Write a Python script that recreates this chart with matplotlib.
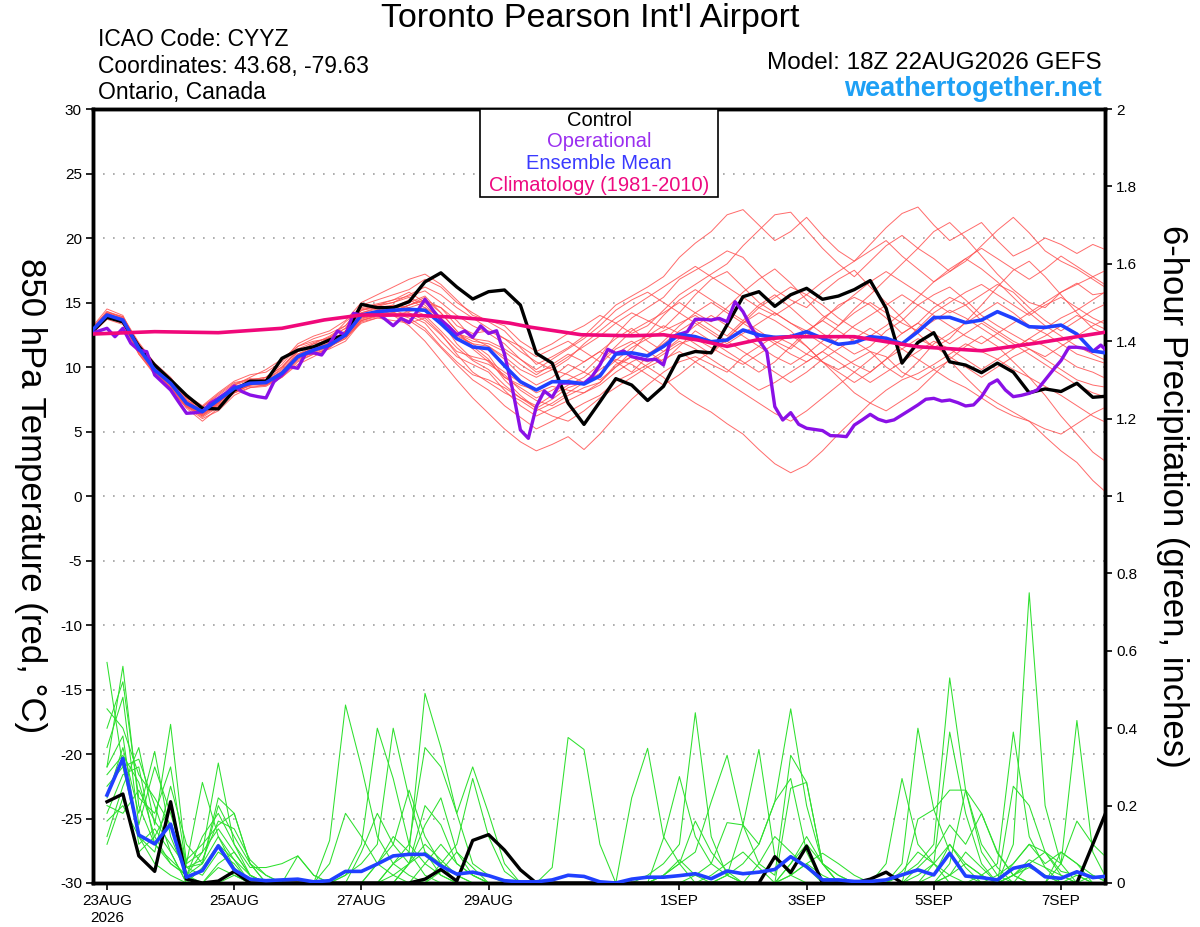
import matplotlib
matplotlib.use('Agg')
import matplotlib.pyplot as plt
from matplotlib.patches import Rectangle

plt.rcParams['font.family'] = ['Liberation Sans', 'DejaVu Sans']

# ---------------- data ----------------
hours_t = list(range(0, 385, 6))     # temperature / mean / control, hours after 22AUG 18Z
hours_op = list(range(0, 385, 3))    # operational run, 3-hourly
hours_p = list(range(6, 385, 6))     # 6-hour precipitation

control_t = [12.66, 13.85, 13.5, 11.6, 10.15, 9.0, 7.8, 6.8, 6.75, 8.2, 8.9, 8.9, 10.67,
             11.3, 11.57, 12.1, 12.5, 14.86, 14.6, 14.6, 15.06, 16.6, 17.3, 16.2, 15.27, 15.84,
             15.97, 14.8, 11.06, 10.3, 7.2, 5.55, 7.3, 9.1, 8.6, 7.4, 8.5, 10.85, 11.2,
             11.1, 13.26, 15.45, 15.84, 14.7, 15.6, 16.1, 15.25, 15.5, 16.0, 16.7, 14.55, 10.3,
             11.9, 12.66, 10.4, 10.15, 9.56, 10.3, 9.6, 8.0, 8.3, 8.1, 8.74, 7.65, 7.75]

mean_t = [12.74, 14.03, 13.64, 11.45, 9.77, 8.74, 7.19, 6.54, 7.44, 8.35, 8.74, 8.79, 9.52,
          10.8, 11.32, 11.7, 12.48, 14.03, 14.29, 14.4, 14.47, 14.4, 13.36, 12.2, 11.55, 11.42,
          10.1, 8.86, 8.22, 8.86, 8.86, 8.68, 9.3, 11.0, 11.1, 10.86, 11.6, 12.53, 12.35,
          11.96, 12.09, 12.87, 12.48, 12.3, 12.35, 12.74, 12.23, 11.76, 11.9, 12.35, 12.23, 11.8,
          12.74, 13.83, 13.85, 13.44, 13.64, 14.29, 13.77, 13.12, 13.07, 13.25, 12.55, 11.24, 11.06]

oper_t = [12.6, 12.8, 13.0, 12.35, 13.0, 11.84, 11.3, 11.19, 9.38, 8.8, 8.22, 7.3, 6.41,
          6.45, 6.54, 7.19, 7.57, 8.0, 8.53, 8.09, 7.83, 7.7, 7.6, 8.86, 9.38, 10.02,
          9.9, 11.06, 11.1, 10.93, 11.8, 12.79, 12.48, 14.16, 14.03, 14.1, 14.16, 13.7, 13.2,
          13.77, 13.44, 14.3, 15.25, 14.4, 13.64, 13.12, 12.5, 12.8, 12.3, 13.18, 12.6, 12.81,
          11.0, 8.3, 5.12, 4.47, 6.93, 8.14, 7.65, 8.74, 8.76, 8.75, 8.74, 9.25, 10.16,
          11.37, 11.06, 11.24, 10.8, 10.67, 10.54, 10.6, 10.16, 12.35, 12.53, 12.74, 13.7, 13.7,
          13.64, 13.77, 13.51, 15.06, 14.29, 13.12, 12.09, 11.19, 6.93, 5.89, 6.46, 5.56, 5.25,
          5.16, 5.07, 4.68, 4.66, 4.6, 5.5, 5.9, 6.33, 5.95, 5.76, 5.9, 6.28, 6.67,
          7.06, 7.5, 7.57, 7.36, 7.44, 7.24, 6.98, 7.06, 7.7, 8.66, 9.0, 8.22, 7.7,
          7.8, 7.96, 8.22, 9.0, 9.77, 10.5, 11.53, 11.53, 11.45, 11.2, 11.7, 11.12]

clim_hours = [0, 24, 48, 72, 88, 102, 120, 138, 147, 158, 166, 185, 204, 216, 229, 240,
              251, 264, 275, 288, 312, 336, 356, 384]
clim_t = [12.55, 12.74, 12.66, 13.0, 13.65, 14.03, 14.03, 13.85, 13.7, 13.4, 13.08, 12.5,
          12.42, 12.5, 12.09, 11.6, 12.09, 12.35, 12.35, 12.35, 11.57, 11.26, 11.83, 12.74]

ens_t01 = [12.9, 14.3, 13.8, 11.8, 10.2, 9.0, 7.6, 6.8, 7.0, 8.0, 8.6, 9.2, 10.0,
           11.2, 11.8, 12.4, 13.2, 14.8, 15.2, 15.6, 16.0, 16.8, 16.2, 15.0, 14.2, 13.5,
           12.8, 11.5, 10.2, 10.8, 11.5, 12.4, 13.6, 14.8, 15.5, 16.2, 17.0, 18.5, 19.6,
           20.5, 21.8, 22.2, 21.0, 19.8, 20.5, 21.6, 20.2, 19.0, 18.2, 19.5, 20.8, 21.9,
           22.4, 21.0, 19.8, 20.5, 21.2, 19.8, 18.6, 19.2, 20.0, 19.5, 18.8, 19.5, 19.0]
ens_t02 = [12.5, 13.8, 13.4, 11.0, 9.5, 8.2, 6.9, 6.0, 6.6, 7.8, 8.4, 8.5, 9.2,
           10.2, 10.8, 11.5, 12.8, 13.9, 14.2, 14.0, 13.6, 12.8, 11.5, 10.2, 9.0, 8.2,
           7.0, 6.1, 5.2, 5.8, 6.5, 7.2, 7.8, 8.9, 9.5, 10.2, 11.0, 11.8, 12.2,
           11.5, 10.8, 10.2, 11.0, 11.8, 12.5, 11.6, 10.4, 9.8, 10.5, 11.2, 10.8, 9.6,
           9.0, 9.8, 10.5, 9.2, 8.0, 7.2, 6.5, 5.8, 4.6, 3.5, 2.6, 1.2, 0.1]
ens_t03 = [13.0, 14.5, 14.0, 11.6, 9.6, 8.4, 7.0, 6.2, 7.2, 8.6, 9.2, 9.8, 10.6,
           11.6, 12.0, 12.2, 13.5, 14.5, 14.8, 15.2, 15.8, 15.0, 13.8, 12.5, 11.8, 10.9,
           9.2, 8.4, 7.6, 8.2, 9.0, 9.6, 10.8, 12.5, 13.8, 14.6, 15.4, 16.8, 17.5,
           18.2, 19.0, 18.5, 17.2, 16.0, 15.2, 14.6, 15.8, 16.8, 17.5, 16.2, 15.0, 13.8,
           12.6, 11.5, 12.2, 13.5, 14.8, 16.2, 17.5, 18.2, 17.0, 15.6, 14.2, 13.0, 12.4]
ens_t04 = [12.6, 13.9, 13.6, 11.2, 9.9, 8.9, 7.5, 6.6, 7.6, 8.4, 8.9, 8.8, 9.6,
           10.6, 11.2, 11.9, 12.8, 14.2, 14.6, 14.8, 14.2, 13.6, 12.5, 11.2, 10.8, 10.5,
           9.6, 8.8, 8.0, 8.5, 8.2, 8.0, 8.8, 10.2, 10.8, 10.0, 9.2, 8.0, 7.2,
           6.5, 5.6, 4.8, 3.6, 2.5, 1.8, 2.4, 3.5, 4.8, 6.0, 7.2, 8.2, 9.0,
           9.5, 10.2, 11.0, 11.8, 11.2, 10.6, 9.8, 9.2, 8.5, 7.8, 7.0, 6.2, 5.6]
ens_t05 = [12.8, 14.1, 13.5, 11.5, 9.7, 8.6, 7.0, 6.4, 7.3, 8.2, 8.5, 8.6, 9.3,
           10.9, 11.5, 11.6, 12.2, 13.6, 14.0, 14.2, 14.8, 15.2, 14.6, 13.2, 12.6, 12.8,
           12.2, 11.6, 10.8, 11.4, 12.0, 11.2, 10.4, 11.6, 12.8, 13.5, 14.2, 15.0, 14.2,
           13.5, 14.6, 15.8, 16.8, 17.6, 16.5, 15.2, 14.0, 13.2, 14.5, 15.6, 16.8, 18.0,
           19.2, 20.5, 21.2, 20.0, 18.6, 17.2, 16.0, 15.0, 14.6, 15.8, 16.5, 15.6, 15.8]
ens_t06 = [12.7, 14.0, 13.7, 11.3, 9.6, 8.5, 7.1, 6.2, 7.0, 8.1, 8.8, 9.0, 9.8,
           11.0, 11.6, 12.0, 12.6, 13.8, 14.1, 14.6, 15.0, 15.5, 14.2, 12.8, 11.6, 10.6,
           9.0, 7.8, 6.8, 7.5, 8.4, 8.8, 9.5, 10.5, 11.5, 12.2, 12.8, 13.4, 14.0,
           13.2, 12.4, 13.6, 14.8, 15.6, 14.6, 13.5, 12.6, 11.8, 11.0, 11.6, 12.8, 13.6,
           14.8, 15.6, 16.2, 15.2, 14.0, 13.2, 12.5, 11.8, 12.4, 13.2, 14.0, 13.4, 12.8]
ens_t07 = [12.5, 13.7, 13.3, 11.0, 9.4, 8.3, 6.8, 5.8, 6.8, 8.0, 8.4, 8.6, 9.2,
           10.4, 11.0, 11.4, 12.0, 13.5, 13.8, 14.0, 13.2, 12.0, 10.5, 9.0, 7.6, 6.4,
           5.2, 4.2, 3.5, 4.0, 4.6, 3.6, 4.8, 6.2, 7.5, 8.6, 9.6, 10.4, 10.8,
           10.2, 9.6, 10.8, 11.6, 12.4, 11.8, 11.0, 10.4, 9.6, 8.8, 9.6, 10.6, 11.4,
           12.2, 11.6, 10.8, 10.0, 9.2, 10.0, 10.8, 11.4, 10.6, 9.8, 9.0, 8.6, 8.4]
ens_t08 = [12.8, 14.2, 13.9, 11.7, 10.0, 8.8, 7.4, 6.9, 7.8, 8.7, 9.1, 9.0, 9.9,
           11.3, 11.6, 12.3, 13.0, 14.6, 14.9, 15.2, 15.5, 15.9, 15.0, 14.0, 13.2, 12.6,
           11.8, 10.6, 9.6, 10.0, 10.8, 11.6, 12.4, 13.4, 14.2, 13.6, 13.0, 14.2, 15.6,
           16.8, 17.4, 16.2, 15.0, 14.2, 13.4, 12.8, 13.6, 14.8, 15.4, 14.8, 13.8, 12.6,
           13.4, 14.6, 15.4, 14.8, 13.6, 12.8, 12.0, 11.4, 10.8, 11.6, 12.4, 13.2, 13.8]
ens_t09 = [12.6, 13.9, 13.5, 11.4, 9.8, 8.6, 7.3, 6.7, 7.5, 8.5, 8.8, 8.7, 9.4,
           10.7, 11.2, 11.6, 12.3, 13.4, 13.8, 13.6, 13.4, 13.8, 12.6, 11.0, 9.6, 8.8,
           8.0, 7.4, 6.6, 7.2, 8.0, 8.8, 9.8, 10.6, 10.2, 9.4, 8.6, 9.4, 10.4,
           11.2, 12.2, 13.4, 14.2, 13.6, 12.8, 11.6, 10.4, 9.2, 8.0, 7.2, 6.6, 7.4,
           8.2, 9.4, 10.6, 11.6, 12.4, 11.6, 10.4, 9.2, 7.8, 6.2, 4.8, 3.4, 2.5]
ens_t10 = [12.9, 14.2, 13.7, 11.6, 10.1, 9.1, 7.8, 7.0, 8.0, 8.9, 9.4, 9.6, 10.4,
           11.8, 12.4, 12.8, 13.6, 15.0, 15.6, 16.2, 16.8, 17.2, 16.4, 15.2, 14.0, 13.6,
           13.2, 12.0, 11.2, 11.8, 12.6, 13.2, 14.0, 13.4, 12.6, 13.2, 14.4, 15.6, 16.4,
           17.2, 18.0, 19.4, 20.6, 21.8, 22.0, 20.6, 19.2, 18.0, 17.0, 18.2, 19.4, 20.2,
           19.2, 18.4, 17.4, 18.2, 19.4, 20.6, 21.6, 20.4, 19.0, 18.2, 17.6, 16.8, 16.0]
ens_t11 = [12.7, 14.0, 13.6, 11.2, 9.5, 8.4, 6.9, 6.3, 7.1, 8.0, 8.6, 8.9, 9.7,
           10.9, 11.4, 11.9, 12.6, 14.0, 14.4, 14.8, 14.6, 14.0, 12.8, 11.5, 10.5, 9.8,
           8.6, 7.6, 7.0, 7.8, 8.6, 9.2, 10.2, 11.4, 12.0, 11.2, 10.4, 11.6, 12.8,
           12.0, 11.2, 10.4, 9.6, 10.4, 11.6, 12.8, 13.6, 12.8, 12.0, 11.2, 10.0, 9.2,
           10.4, 11.8, 12.6, 13.4, 14.2, 15.0, 14.2, 13.2, 12.6, 11.8, 11.0, 10.6, 10.2]
ens_t12 = [12.6, 13.8, 13.5, 11.6, 10.0, 8.9, 7.2, 6.4, 7.2, 8.3, 8.7, 8.6, 9.4,
           10.5, 11.0, 11.5, 12.4, 13.8, 14.0, 14.2, 14.6, 15.0, 14.6, 13.6, 12.2, 11.6,
           10.6, 9.4, 8.6, 9.2, 10.2, 9.6, 9.0, 10.0, 11.2, 12.6, 14.0, 15.2, 16.0,
           15.2, 14.4, 13.6, 12.8, 12.0, 11.4, 12.6, 13.8, 14.6, 15.6, 16.6, 17.4, 16.6,
           15.8, 15.0, 14.2, 14.8, 15.6, 16.4, 15.8, 14.6, 13.6, 12.8, 13.6, 14.4, 15.0]
ens_t13 = [12.8, 14.1, 13.8, 11.4, 9.7, 8.6, 7.0, 6.1, 6.9, 8.2, 8.7, 8.9, 9.5,
           10.8, 11.5, 11.8, 12.4, 13.7, 14.1, 14.3, 14.8, 15.4, 13.6, 11.8, 10.6, 10.2,
           9.4, 8.2, 7.4, 7.0, 7.8, 8.4, 8.8, 10.0, 10.8, 10.4, 11.2, 12.0, 11.4,
           10.6, 9.8, 9.0, 8.2, 8.8, 9.6, 10.4, 11.2, 10.4, 9.6, 8.8, 9.6, 10.4,
           11.2, 12.0, 11.4, 10.6, 9.8, 10.6, 11.4, 12.2, 11.6, 10.8, 10.0, 9.6, 9.0]
ens_t14 = [12.7, 14.1, 13.6, 11.5, 9.9, 8.8, 7.3, 6.6, 7.4, 8.4, 8.8, 8.9, 9.6,
           11.0, 11.4, 11.8, 12.6, 14.2, 14.5, 14.6, 15.2, 14.6, 13.4, 12.4, 11.8, 11.6,
           10.8, 9.8, 9.2, 9.8, 9.4, 8.8, 9.4, 11.0, 11.8, 12.4, 13.2, 12.6, 11.8,
           11.0, 12.2, 13.4, 14.6, 15.4, 16.2, 15.6, 14.8, 13.8, 13.0, 12.4, 13.2, 14.2,
           15.4, 16.6, 17.6, 18.4, 17.6, 16.6, 15.4, 14.2, 13.2, 12.4, 11.6, 11.0, 10.4]
ens_t15 = [12.5, 13.8, 13.5, 11.3, 9.6, 8.4, 7.0, 6.3, 7.2, 8.1, 8.6, 8.7, 9.4,
           10.6, 11.1, 11.6, 12.2, 13.6, 13.9, 14.0, 14.3, 14.6, 13.8, 12.6, 12.0, 11.8,
           11.2, 10.2, 9.4, 10.2, 11.0, 10.4, 11.2, 12.2, 13.0, 12.0, 11.2, 12.2, 13.2,
           14.0, 13.2, 12.4, 11.6, 10.8, 10.2, 11.0, 12.0, 13.2, 14.2, 15.0, 14.2, 13.4,
           12.8, 13.6, 14.4, 13.8, 13.0, 12.2, 11.4, 12.2, 13.0, 13.8, 14.4, 15.2, 16.0]
ens_t16 = [12.8, 14.0, 13.7, 11.6, 9.9, 8.7, 7.2, 6.5, 7.5, 8.4, 8.7, 8.9, 9.5,
           10.8, 11.3, 11.7, 12.4, 13.9, 14.2, 14.4, 14.0, 13.4, 12.0, 10.8, 10.2, 9.6,
           8.2, 7.0, 6.2, 6.8, 7.4, 8.0, 8.6, 9.6, 10.4, 11.0, 11.8, 12.8, 13.6,
           12.8, 12.0, 11.2, 10.4, 9.6, 8.8, 9.6, 10.6, 11.4, 12.2, 13.0, 12.2, 11.4,
           10.6, 9.8, 9.0, 8.4, 7.6, 6.8, 6.2, 5.8, 5.2, 4.8, 5.6, 6.4, 7.0]
ens_t17 = [12.6, 14.2, 13.6, 11.5, 9.9, 8.8, 7.4, 6.6, 7.4, 8.6, 9.0, 9.2, 10.2,
           11.6, 12.2, 12.6, 13.2, 14.4, 14.8, 15.0, 15.4, 14.8, 13.6, 12.6, 12.2, 12.0,
           11.4, 10.6, 9.8, 10.6, 11.4, 12.2, 13.2, 14.4, 15.2, 15.8, 15.0, 14.2, 13.4,
           12.6, 11.8, 12.6, 13.4, 14.2, 13.4, 12.6, 11.8, 11.0, 10.2, 9.6, 10.6, 11.8,
           13.0, 14.2, 15.0, 15.8, 16.4, 15.6, 14.8, 14.0, 14.8, 15.4, 14.6, 13.8, 13.2]
ens_t18 = [12.7, 13.9, 13.4, 11.1, 9.6, 8.6, 7.1, 6.4, 7.3, 8.2, 8.6, 8.8, 9.6,
           11.2, 11.8, 12.0, 12.8, 14.4, 14.6, 14.2, 13.8, 13.0, 11.6, 10.4, 9.4, 9.0,
           8.4, 7.6, 6.8, 6.2, 5.8, 6.6, 7.6, 8.4, 9.2, 10.0, 10.6, 11.2, 10.4,
           9.6, 8.8, 8.0, 7.2, 6.4, 5.8, 6.6, 7.6, 8.6, 9.6, 10.6, 11.6, 12.6,
           13.4, 12.6, 11.8, 12.6, 13.4, 12.6, 11.8, 11.0, 10.2, 9.4, 8.6, 8.0, 7.6]
ens_t19 = [12.9, 14.3, 13.9, 11.9, 10.3, 9.2, 7.6, 6.9, 7.9, 8.8, 9.0, 9.2, 10.0,
           11.4, 11.9, 12.3, 13.0, 14.4, 14.7, 15.0, 15.6, 16.2, 15.6, 14.6, 13.8, 13.0,
           12.2, 11.2, 10.4, 9.8, 10.6, 11.8, 12.8, 13.8, 14.6, 15.4, 16.2, 17.0, 17.8,
           17.0, 16.2, 15.4, 14.6, 14.0, 14.8, 15.6, 16.6, 17.4, 18.2, 19.0, 19.8, 18.6,
           17.6, 16.6, 17.4, 18.4, 19.2, 18.4, 17.6, 16.8, 17.6, 18.6, 17.8, 17.0, 16.2]
ens_t20 = [12.6, 13.9, 13.5, 11.3, 9.7, 8.6, 7.1, 6.4, 7.2, 8.3, 8.8, 8.7, 9.5,
           10.8, 11.2, 11.6, 12.4, 13.6, 14.0, 14.4, 14.8, 15.2, 14.2, 12.8, 11.4, 10.4,
           9.2, 8.6, 8.2, 8.8, 9.6, 10.4, 11.2, 10.4, 9.6, 10.8, 12.0, 13.2, 14.2,
           15.0, 14.2, 13.4, 12.6, 11.8, 11.0, 10.4, 11.2, 12.2, 13.2, 14.0, 14.8, 15.6,
           14.8, 14.0, 13.2, 12.4, 11.8, 12.6, 13.4, 14.2, 15.0, 15.8, 16.4, 17.0, 17.6]

control_p = [.21, .23, .07, .03, .21, .01, 0, .005, .03, 0, 0, 0, 0, 0, 0, 0,
             0, 0, 0, 0, .01, .035, .005, .11, .125, .085, .034, 0, 0, 0, 0, 0,
             0, 0, 0, 0, 0, 0, 0, 0, 0, 0, .068, .027, .095, 0, 0, 0,
             .01, .028, 0, 0, 0, 0, 0, 0, 0, 0, 0, 0, 0, 0, .1, .2]
mean_p = [.227, .322, .124, .101, .152, .015, .032, .096, .034, .01, .006, .008, .01, .003, .006, .03,
          .03, .049, .07, .074, .074, .044, .023, .028, .019, .006, .003, .003, .008, .02, .017, .003,
          0, .01, .015, .015, .019, .024, .011, .031, .024, .028, .035, .068, .042, .008, .008, .004,
          .004, .008, .021, .034, .021, .077, .018, .014, .008, .038, .047, .016, .012, .029, .014, .018]

ens_p01 = [.57, .30, .12, .05, .02, 0, .04, .10, .06, 0, 0, 0, 0, 0, 0, .02,
           .05, .10, .40, .22, .08, .02, 0, 0, 0, 0, 0, 0, 0, 0, 0, 0,
           0, 0, .02, .05, .10, .44, .12, .02, 0, 0, 0, 0, 0, 0, 0, 0,
           0, 0, .02, .05, .10, .53, .24, .08, .02, 0, .05, .02, 0, 0, 0, 0]
ens_p02 = [.30, .56, .20, .10, .05, .02, .08, .31, .10, .02, 0, 0, 0, 0, .11, .46,
           .30, .12, .05, .02, 0, 0, 0, 0, 0, 0, 0, 0, 0, 0, 0, 0,
           0, 0, 0, 0, 0, 0, 0, .02, .05, .10, .21, .45, .20, .05, .02, 0,
           0, 0, 0, 0, .02, .10, .05, .02, 0, .10, .75, .20, .05, 0, 0, 0]
ens_p03 = [.22, .35, .18, .34, .12, .02, 0, 0, .02, 0, 0, 0, 0, 0, 0, 0,
           0, 0, .05, .08, .49, .35, .18, .05, .02, 0, 0, 0, .04, .376, .345, .10,
           0, 0, 0, 0, 0, 0, 0, 0, 0, 0, 0, .05, .10, .05, 0, 0,
           0, 0, 0, 0, 0, .05, .24, .18, .08, .02, 0, 0, 0, 0, 0, 0]
ens_p04 = [.12, .25, .35, .15, .41, .05, .26, .12, .04, 0, 0, 0, .07, .02, 0, 0,
           0, .05, .10, .24, .12, .05, 0, 0, 0, 0, 0, 0, 0, 0, 0, 0,
           0, .22, .348, .12, .05, 0, 0, .02, .15, .345, .07, .02, 0, 0, 0, 0,
           0, 0, 0, 0, 0, .02, .05, .02, .05, .39, .12, .04, 0, .02, 0, 0]
ens_p05 = [.45, .40, .28, .22, .15, .06, .10, .15, .18, .05, .02, 0, 0, 0, 0, .02,
           .10, .40, .27, .10, .05, .02, 0, 0, 0, 0, 0, 0, 0, 0, 0, 0,
           0, 0, 0, .02, .05, .08, .21, .33, .15, .05, .02, .33, .26, .05, 0, 0,
           0, 0, .05, .40, .19, .08, .02, 0, 0, .02, .05, .08, .05, .16, .10, .06]
ens_p06 = [.25, .30, .32, .20, .08, 0, 0, .05, .08, .02, 0, 0, 0, 0, 0, 0,
           0, 0, .05, .10, .35, .30, .18, .30, .18, .05, 0, 0, 0, 0, 0, 0,
           0, 0, 0, 0, 0, .02, .05, .156, .15, .10, .21, .27, .08, 0, 0, 0,
           0, 0, 0, .02, .05, .39, .18, .05, 0, .25, .20, .08, .02, 0, 0, 0]
ens_p07 = [.16, .20, .12, .08, .25, .10, .05, .20, .12, .05, 0, 0, 0, 0, 0, 0,
           0, 0, 0, 0, .05, .10, .05, .02, 0, 0, 0, 0, 0, 0, 0, 0,
           0, 0, 0, .116, .275, .12, .05, .02, 0, 0, 0, 0, 0, 0, 0, 0,
           0, 0, 0, .165, .19, .24, .24, .10, .04, 0, 0, 0, .05, .42, .08, 0]
ens_p08 = [.35, .48, .15, .30, .18, .04, .05, .22, .18, .05, 0, 0, 0, 0, 0, 0,
           0, 0, 0, .05, .15, .22, .08, .02, 0, 0, 0, 0, 0, 0, 0, 0,
           0, 0, 0, .02, .05, .16, .08, .03, 0, 0, 0, .245, .26, .05, .02, 0,
           0, .05, .27, .10, .05, 0, 0, .02, 0, 0, 0, 0, 0, 0, .02, 0]
ens_p09 = [.28, .33, .26, .12, .05, .02, .05, .12, .06, .02, 0, 0, 0, 0, 0, 0,
           .08, .18, .10, .05, .20, .15, .05, .02, 0, 0, 0, 0, 0, 0, 0, 0,
           0, 0, 0, 0, 0, 0, 0, 0, 0, .05, .12, .08, .04, 0, 0, 0,
           0, 0, 0, .04, .08, .15, .10, .18, .077, .02, 0, 0, .08, .05, .02, 0]
ens_p10 = [.40, .52, .22, .18, .30, .04, .02, .08, .05, 0, 0, 0, 0, 0, .05, .18,
           .12, .05, .02, 0, 0, .05, .10, .27, .12, .03, 0, 0, 0, 0, 0, 0,
           0, 0, 0, 0, 0, 0, 0, 0, 0, 0, 0, .05, .12, .05, 0, 0,
           0, 0, 0, 0, 0, .02, .08, .04, 0, .05, .10, .05, .08, .05, 0, 0]
ens_p11 = [.18, .28, .30, .10, .06, .02, .12, .18, .10, .04, .04, .05, .07, .02, 0, 0,
           0, 0, 0, .05, .08, .05, .02, 0, 0, 0, 0, 0, 0, 0, 0, 0,
           0, 0, 0, 0, 0, 0, .02, .05, .08, .04, 0, .02, .05, .077, .05, .02,
           0, 0, 0, 0, 0, 0, 0, 0, .02, .05, .10, .08, .03, .02, 0, 0]
ens_p12 = [.30, .38, .10, .14, .08, 0, 0, .04, .02, 0, 0, 0, 0, 0, 0, 0,
           0, 0, .02, .05, .10, .06, .02, 0, 0, 0, 0, 0, 0, 0, 0, 0,
           0, 0, 0, 0, 0, 0, 0, 0, 0, 0, 0, 0, 0, 0, 0, 0,
           0, 0, 0, 0, 0, 0, 0, 0, 0, 0, 0, 0, 0, 0, 0, 0]
ens_p13 = [.10, .22, .08, .12, .20, .05, .08, .14, .08, .02, 0, 0, 0, 0, 0, 0,
           0, .05, .12, .08, .02, 0, 0, 0, 0, 0, 0, 0, 0, 0, 0, 0,
           0, 0, 0, .02, .06, .02, 0, 0, 0, 0, 0, .02, .05, .02, 0, 0,
           0, 0, .03, .08, .05, .02, 0, 0, 0, .02, .04, .02, 0, 0, 0, 0]
ens_p14 = [.20, .18, .24, .16, .10, .04, .06, .16, .14, .06, .02, 0, 0, 0, 0, 0,
           0, 0, 0, 0, 0, .03, .08, .04, 0, 0, 0, 0, 0, 0, 0, 0,
           0, 0, 0, 0, 0, 0, 0, 0, 0, 0, 0, 0, 0, 0, 0, 0,
           0, 0, 0, 0, .05, .10, .04, 0, 0, .02, .06, .04, .02, 0, 0, 0]

ens_t_members = [ens_t01, ens_t02, ens_t03, ens_t04, ens_t05, ens_t06, ens_t07, ens_t08,
                 ens_t09, ens_t10, ens_t11, ens_t12, ens_t13, ens_t14, ens_t15, ens_t16,
                 ens_t17, ens_t18, ens_t19, ens_t20]
ens_p_members = [ens_p01, ens_p02, ens_p03, ens_p04, ens_p05, ens_p06, ens_p07,
                 ens_p08, ens_p09, ens_p10, ens_p11, ens_p12, ens_p13, ens_p14]

tick_hours = [6, 54, 102, 150, 222, 270, 318, 366]
tick_labels = ['23AUG\n2026', '25AUG', '27AUG', '29AUG', '1SEP', '3SEP', '5SEP', '7SEP']

# ---------------- figure ----------------
W, H = 1200, 927
fig = plt.figure(figsize=(W / 100, H / 100), dpi=100)
L, R, T, B = 93, 1105, 109, 883
ax = fig.add_axes([L / W, 1 - B / H, (R - L) / W, (B - T) / H])
ax2 = ax.twinx()

C_RED = '#ff5050'
C_GREEN = '#2ee02e'
C_PURPLE = '#8a10e6'
C_BLUE = '#2040ff'
C_PINK = '#f0087a'

# precipitation (right axis)
for m in ens_p_members:
    ax2.plot(hours_p, m, color=C_GREEN, lw=0.75, zorder=2)
ax2.plot(hours_p, control_p, color='black', lw=2.4, zorder=4)
ax2.plot(hours_p, mean_p, color=C_BLUE, lw=2.6, zorder=5)

# temperature (left axis scale)
for m in ens_t_members:
    ax2.plot(hours_t, m, color=C_RED, lw=0.7, alpha=0.85, zorder=2, transform=ax.transData)
ax2.plot(hours_t, control_t, color='black', lw=2.4, zorder=4, transform=ax.transData)
ax2.plot(hours_op, oper_t, color=C_PURPLE, lw=2.4, zorder=5, transform=ax.transData)
ax2.plot(hours_t, mean_t, color=C_BLUE, lw=2.6, zorder=6, transform=ax.transData)
ax2.plot(clim_hours, clim_t, color=C_PINK, lw=2.6, zorder=7, transform=ax.transData)

ax.set_xlim(0.72, 382.6)
ax.set_ylim(-30, 30)
ax2.set_ylim(0, 2)
ax.set_yticks(list(range(-30, 31, 5)))
ax.set_yticklabels([str(v) for v in range(-30, 31, 5)])
ax2.set_yticks([0, 0.2, 0.4, 0.6, 0.8, 1.0, 1.2, 1.4, 1.6, 1.8, 2.0])
ax2.set_yticklabels(['0', '0.2', '0.4', '0.6', '0.8', '1', '1.2', '1.4', '1.6', '1.8', '2'])
ax.set_xticks(tick_hours)
ax.set_xticklabels(tick_labels, fontsize=11, linespacing=1.25)
ax.tick_params(axis='y', direction='out', length=5, width=1.2, labelsize=11, pad=3)
ax2.tick_params(axis='y', direction='out', length=5, width=1.2, labelsize=11, pad=3)
ax.tick_params(axis='x', direction='out', length=5, width=1.2, pad=3)

ax.yaxis.grid(True, linestyle=(0, (1, 5)), color='#a0a0a0', lw=1.2)
ax.set_axisbelow(True)
for a in (ax, ax2):
    for s in a.spines.values():
        s.set_linewidth(2.5)
        s.set_color('black')

# legend box
ax2.add_patch(Rectangle((0.3824, 0.886), 0.2352, 0.114, transform=ax.transAxes,
                        facecolor='white', edgecolor='black', lw=1.2, zorder=10))
leg_items = [('Control', 'black'), ('Operational', '#9a2ef0'),
             ('Ensemble Mean', '#3a3aff'), ('Climatology (1981-2010)', '#ee0a80')]
leg_y = [0.9845, 0.9574, 0.930, 0.9018]
for (txt, col), yy in zip(leg_items, leg_y):
    ax2.text(0.5, yy, txt, transform=ax.transAxes, ha='center', va='center',
             fontsize=14.5, color=col, zorder=11)

# header texts
fig.text(590 / W, 1 - 18 / H, "Toronto Pearson Int'l Airport", ha='center', va='center', fontsize=24.5)
fig.text(98 / W, 1 - 40 / H, 'ICAO Code: CYYZ', ha='left', va='center', fontsize=16.5)
fig.text(98 / W, 1 - 66 / H, 'Coordinates: 43.68, -79.63', ha='left', va='center', fontsize=16.5)
fig.text(98 / W, 1 - 93 / H, 'Ontario, Canada', ha='left', va='center', fontsize=16.5)
fig.text(1102 / W, 1 - 63 / H, 'Model: 18Z 22AUG2026 GEFS', ha='right', va='center', fontsize=17.5)
fig.text(1102 / W, 1 - 89 / H, 'weathertogether.net', ha='right', va='center', fontsize=19.5,
         fontweight='bold', color='#1ea0f5')

fig.text(30 / W, 1 - 496 / H, '850 hPa Temperature (red, °C)', rotation=270, ha='center',
         va='center', fontsize=25)
fig.text(1172 / W, 1 - 496 / H, '6-hour Precipitation (green, inches)', rotation=270,
         ha='center', va='center', fontsize=25)

fig.savefig('out.png', dpi=100)
